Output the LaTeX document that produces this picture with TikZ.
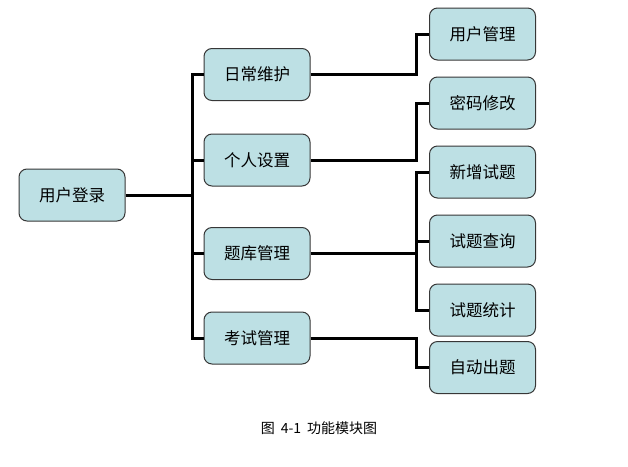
\documentclass[tikz,border=0pt]{standalone}
\usepackage{fontspec}
\newfontfamily\cjk{Noto Sans CJK SC}
\definecolor{boxfill}{RGB}{189,224,228}
\definecolor{boxline}{RGB}{55,55,55}
\tikzset{
  mbox/.style={draw=boxline, line width=1pt, fill=boxfill, rounded corners=8pt,
    minimum width=106pt, minimum height=52pt, inner sep=0pt,
    font=\cjk\fontsize{16.5}{17}\selectfont},
  conn/.style={line width=3pt, black, line join=miter}
}
\begin{document}
\begin{tikzpicture}[x=1pt,y=-1pt]
\useasboundingbox (0,0) rectangle (628,466);
\node[mbox] (login) at (72,195) {用户登录};
\node[mbox] (rc) at (257,74.5) {日常维护};
\node[mbox] (gr) at (257,160) {个人设置};
\node[mbox] (tk) at (257,253.5) {题库管理};
\node[mbox] (ks) at (257,338) {考试管理};
\node[mbox] (yh) at (482.5,34) {用户管理};
\node[mbox] (mm) at (482.5,103) {密码修改};
\node[mbox] (xz) at (482.5,172) {新增试题};
\node[mbox] (cx) at (482.5,241) {试题查询};
\node[mbox] (tj) at (482.5,310) {试题统计};
\node[mbox] (zd) at (482.5,367.5) {自动出题};
\coordinate (t) at (192,195);
\coordinate (xl) at (416,0);
\draw[conn] (login.east) -- (t);
\draw[conn] (rc.west) -| (t);
\draw[conn] (gr.west) -| (t);
\draw[conn] (tk.west) -| (t);
\draw[conn] (ks.west) -| (t);
\draw[conn] (rc.east) -- (rc.east -| xl) |- (yh.west);
\draw[conn] (gr.east) -- (gr.east -| xl) |- (mm.west);
\draw[conn] (tk.east) -- (tk.east -| xl) |- (xz.west);
\draw[conn] (tk.east -| xl) |- (cx.west);
\draw[conn] (tk.east -| xl) |- (tj.west);
\draw[conn] (ks.east) -- (ks.east -| xl) |- (zd.west);
\node[font=\cjk\fontsize{14}{15}\selectfont, inner sep=0pt] (cap) at (319,428) {图\hspace{6pt}4-1\hspace{6pt}功能模块图};
\end{tikzpicture}
\end{document}
